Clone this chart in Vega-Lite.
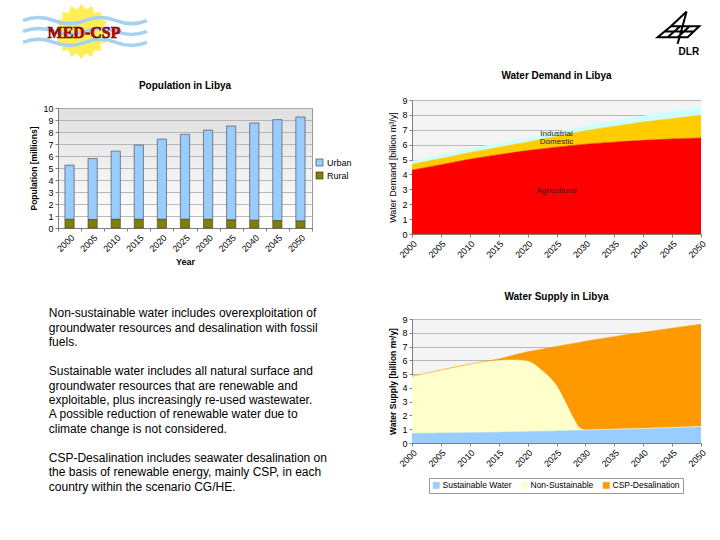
{
  "$schema": "https://vega.github.io/schema/vega-lite/v6.json",
  "background": "white",
  "padding": {"left": 16, "top": 3, "right": 10, "bottom": 10},
  "spacing": 30,
  "resolve": {"scale": {"color": "independent"}, "legend": {"color": "independent"}},
  "config": {
    "font": "Liberation Sans",
    "view": {"stroke": null},
    "axis": {"labelFontSize": 9, "labelColor": "#000", "titleColor": "#000", "domainColor": "#7f7f7f", "tickColor": "#7f7f7f", "gridColor": "#a9a9a9", "gridWidth": 0.8, "tickSize": 3, "titleFontSize": 9, "labelPadding": 2},
    "title": {"fontSize": 10, "fontWeight": "bold", "color": "#000", "font": "Liberation Sans"},
    "legend": {"labelColor": "#000"}
  },
  "hconcat": [
    {
      "bounds": "flush",
      "spacing": 45,
      "resolve": {"scale": {"color": "independent"}, "legend": {"color": "independent"}},
      "vconcat": [
        {
          "width": 300,
          "height": 58.5,
          "data": {"values": [{"logo": "MED-CSP"}]},
          "layer": [
            {
              "mark": {"type": "point", "shape": "M1,0L0.804,0.160L0.924,0.383L0.682,0.456L0.707,0.707L0.456,0.682L0.383,0.924L0.160,0.804L0,1L-0.160,0.804L-0.383,0.924L-0.456,0.682L-0.707,0.707L-0.682,0.456L-0.924,0.383L-0.804,0.160L-1,0L-0.804,-0.160L-0.924,-0.383L-0.682,-0.456L-0.707,-0.707L-0.456,-0.682L-0.383,-0.924L-0.160,-0.804L0,-1L0.160,-0.804L0.383,-0.924L0.456,-0.682L0.707,-0.707L0.682,-0.456L0.924,-0.383L0.804,-0.160Z", "size": 3025, "filled": true, "color": "#ffee55", "opacity": 1, "strokeWidth": 0},
              "encoding": {
                "x": {"datum": 0.0783, "type": "quantitative", "scale": {"domain": [0, 1]}, "axis": null},
                "y": {"datum": 0.53, "type": "quantitative", "scale": {"domain": [0, 1]}, "axis": null}
              }
            },
            {
              "mark": {"type": "point", "shape": "M-1,-0.177Q-0.75,-0.277,-0.5,-0.177T0,-0.177T0.5,-0.177T1,-0.177M-1,0Q-0.75,-0.1,-0.5,0T0,0T0.5,0T1,0M-1,0.177Q-0.75,0.077,-0.5,0.177T0,0.177T0.5,0.177T1,0.177", "size": 15376, "filled": false, "stroke": "#a6d2f2", "strokeWidth": 3.5, "opacity": 1},
              "encoding": {
                "x": {"datum": 0.09, "type": "quantitative"},
                "y": {"datum": 0.53, "type": "quantitative"}
              }
            },
            {
              "mark": {"type": "text", "font": "Liberation Serif", "fontWeight": "bold", "fontSize": 16, "fill": "#e00000", "stroke": "#600000", "strokeWidth": 0.6, "align": "center", "baseline": "middle"},
              "encoding": {
                "x": {"datum": 0.0867, "type": "quantitative"},
                "y": {"datum": 0.504, "type": "quantitative"},
                "text": {"field": "logo"}
              }
            }
          ]
        },
        {
          "width": 254,
          "height": 120,
          "title": {"text": "Population in Libya", "offset": 13},
          "view": {"fill": {"gradient": "linear", "x1": 0, "y1": 0, "x2": 0, "y2": 1, "stops": [{"offset": 0, "color": "#e0e0e0"}, {"offset": 1, "color": "#ffffff"}]}, "stroke": "#999999"},
          "data": {"values": [
            {"year": "2000", "type": "Urban", "value": 4.52}, {"year": "2000", "type": "Rural", "value": 0.72},
            {"year": "2005", "type": "Urban", "value": 5.09}, {"year": "2005", "type": "Rural", "value": 0.70},
            {"year": "2010", "type": "Urban", "value": 5.69}, {"year": "2010", "type": "Rural", "value": 0.72},
            {"year": "2015", "type": "Urban", "value": 6.19}, {"year": "2015", "type": "Rural", "value": 0.72},
            {"year": "2020", "type": "Urban", "value": 6.69}, {"year": "2020", "type": "Rural", "value": 0.72},
            {"year": "2025", "type": "Urban", "value": 7.08}, {"year": "2025", "type": "Rural", "value": 0.72},
            {"year": "2030", "type": "Urban", "value": 7.44}, {"year": "2030", "type": "Rural", "value": 0.72},
            {"year": "2035", "type": "Urban", "value": 7.83}, {"year": "2035", "type": "Rural", "value": 0.67},
            {"year": "2040", "type": "Urban", "value": 8.11}, {"year": "2040", "type": "Rural", "value": 0.64},
            {"year": "2045", "type": "Urban", "value": 8.42}, {"year": "2045", "type": "Rural", "value": 0.61},
            {"year": "2050", "type": "Urban", "value": 8.67}, {"year": "2050", "type": "Rural", "value": 0.58}
          ]},
          "mark": {"type": "bar", "width": {"band": 0.4}, "stroke": "#404040", "strokeWidth": 0.6, "opacity": 1},
          "encoding": {
            "x": {"field": "year", "type": "ordinal", "scale": {"paddingInner": 0, "paddingOuter": 0}, "axis": {"labelAngle": -45, "title": "Year", "titleFontWeight": "bold", "tickBand": "extent", "grid": false, "titlePadding": 4}},
            "y": {"field": "value", "type": "quantitative", "stack": "zero", "scale": {"domain": [0, 10]}, "axis": {"values": [0, 1, 2, 3, 4, 5, 6, 7, 8, 9, 10], "title": "Population [millions]", "titleFontWeight": "bold", "grid": true, "titleFontSize": 8.5}},
            "color": {"field": "type", "type": "nominal", "scale": {"domain": ["Urban", "Rural"], "range": ["#99ccff", "#808000"]}, "legend": {"title": null, "orient": "none", "legendX": 257, "legendY": 50, "symbolType": "square", "symbolStrokeColor": "#333", "symbolStrokeWidth": 0.6, "symbolSize": 50, "labelFontSize": 9, "labelOffset": 3}},
            "order": {"field": "type", "sort": "ascending"}
          }
        },
        {
          "width": 254,
          "height": 254,
          "data": {"values": [
            {"line": 1, "text": "Non-sustainable water includes overexploitation of"},
            {"line": 2, "text": "groundwater resources and desalination with fossil"},
            {"line": 3, "text": "fuels."},
            {"line": 5, "text": "Sustainable water includes all natural surface and"},
            {"line": 6, "text": "groundwater resources that are renewable and"},
            {"line": 7, "text": "exploitable, plus increasingly re-used wastewater."},
            {"line": 8, "text": "A possible reduction of renewable water due to"},
            {"line": 9, "text": "climate change is not considered."},
            {"line": 11, "text": "CSP-Desalination includes seawater desalination on"},
            {"line": 12, "text": "the basis of renewable energy, mainly CSP, in each"},
            {"line": 13, "text": "country within the scenario CG/HE."}
          ]},
          "mark": {"type": "text", "align": "left", "baseline": "middle", "fontSize": 12, "color": "#000"},
          "encoding": {
            "x": {"datum": 0, "type": "quantitative", "scale": {"domain": [0.035, 1]}, "axis": null},
            "y": {"field": "line", "type": "quantitative", "scale": {"domain": [-1.759, 15.759], "reverse": true, "nice": false, "zero": false}, "axis": null},
            "text": {"field": "text"}
          }
        }
      ]
    },
    {
      "bounds": "flush",
      "spacing": 85,
      "resolve": {"scale": {"color": "independent"}, "legend": {"color": "independent"}},
      "vconcat": [
        {
          "width": 289,
          "height": 10.5,
          "data": {"values": [{"logo": "DLR"}]},
          "layer": [
            {
              "mark": {"type": "point", "shape": "M-0.357,-0.071L0.992,-0.071L0.437,0.452L-0.992,0.452ZM-0.675,0.183L0.706,0.183M0.087,-0.071L-0.516,0.452M0.532,-0.071L-0.04,0.452M0.389,-0.77L-0.04,0.77M0.389,-0.77L-0.357,-0.071", "size": 1764, "filled": false, "stroke": "#000", "strokeWidth": 2, "opacity": 1},
              "encoding": {
                "x": {"datum": 0.922, "type": "quantitative", "scale": {"domain": [0, 1]}, "axis": null},
                "y": {"datum": -1.257, "type": "quantitative", "scale": {"domain": [0, 1]}, "axis": null}
              }
            },
            {
              "mark": {"type": "text", "fontWeight": "bold", "fontSize": 10, "color": "#000", "align": "center", "baseline": "middle"},
              "encoding": {
                "x": {"datum": 0.958, "type": "quantitative"},
                "y": {"datum": -3.53, "type": "quantitative"},
                "text": {"field": "logo"}
              }
            }
          ]
        },
        {
          "width": 289,
          "height": 134,
          "title": {"text": "Water Demand in Libya", "offset": 15},
          "view": {"fill": "#f4f4f4", "stroke": null},
          "data": {"values": [
            {"year": 2000, "sector": "Agricultural", "value": 4.29}, {"year": 2000, "sector": "Domestic", "value": 0.40}, {"year": 2000, "sector": "Industrial", "value": 0.20},
            {"year": 2005, "sector": "Agricultural", "value": 4.65}, {"year": 2005, "sector": "Domestic", "value": 0.42}, {"year": 2005, "sector": "Industrial", "value": 0.22},
            {"year": 2010, "sector": "Agricultural", "value": 5.02}, {"year": 2010, "sector": "Domestic", "value": 0.45}, {"year": 2010, "sector": "Industrial", "value": 0.25},
            {"year": 2015, "sector": "Agricultural", "value": 5.33}, {"year": 2015, "sector": "Domestic", "value": 0.50}, {"year": 2015, "sector": "Industrial", "value": 0.25},
            {"year": 2020, "sector": "Agricultural", "value": 5.60}, {"year": 2020, "sector": "Domestic", "value": 0.58}, {"year": 2020, "sector": "Industrial", "value": 0.25},
            {"year": 2025, "sector": "Agricultural", "value": 5.83}, {"year": 2025, "sector": "Domestic", "value": 0.73}, {"year": 2025, "sector": "Industrial", "value": 0.27},
            {"year": 2030, "sector": "Agricultural", "value": 6.03}, {"year": 2030, "sector": "Domestic", "value": 0.91}, {"year": 2030, "sector": "Industrial", "value": 0.31},
            {"year": 2035, "sector": "Agricultural", "value": 6.17}, {"year": 2035, "sector": "Domestic", "value": 1.07}, {"year": 2035, "sector": "Industrial", "value": 0.35},
            {"year": 2040, "sector": "Agricultural", "value": 6.29}, {"year": 2040, "sector": "Domestic", "value": 1.23}, {"year": 2040, "sector": "Industrial", "value": 0.40},
            {"year": 2045, "sector": "Agricultural", "value": 6.38}, {"year": 2045, "sector": "Domestic", "value": 1.38}, {"year": 2045, "sector": "Industrial", "value": 0.47},
            {"year": 2050, "sector": "Agricultural", "value": 6.45}, {"year": 2050, "sector": "Domestic", "value": 1.52}, {"year": 2050, "sector": "Industrial", "value": 0.56}
          ]},
          "encoding": {
            "x": {"field": "year", "type": "quantitative", "scale": {"domain": [2000, 2050], "nice": false, "zero": false}, "axis": {"values": [2000, 2005, 2010, 2015, 2020, 2025, 2030, 2035, 2040, 2045, 2050], "format": "d", "labelAngle": -45, "title": null, "grid": false}}
          },
          "layer": [
            {
              "mark": {"type": "area", "interpolate": "monotone", "opacity": 1, "line": {"color": "#333", "strokeWidth": 0.6}},
              "encoding": {
                "y": {"field": "value", "type": "quantitative", "stack": "zero", "scale": {"domain": [0, 9]}, "axis": {"values": [0, 1, 2, 3, 4, 5, 6, 7, 8, 9], "title": "Water Demand [billion m³/y]", "titleFontWeight": "normal", "grid": true}},
                "color": {"field": "sector", "type": "nominal", "scale": {"domain": ["Agricultural", "Domestic", "Industrial"], "range": ["#ff0000", "#ffcc00", "#ccffff"]}, "legend": null},
                "order": {"field": "sector", "sort": "ascending"}
              }
            },
            {
              "transform": [
                {"filter": "datum.year === 2025"},
                {"stack": "value", "groupby": ["year"], "sort": [{"field": "sector", "order": "ascending"}], "as": ["v0", "v1"]},
                {"calculate": "(datum.v0 + datum.v1) / 2", "as": "mid"}
              ],
              "mark": {"type": "text", "fontSize": 8, "color": "#222", "baseline": "middle"},
              "encoding": {
                "y": {"field": "mid", "type": "quantitative", "axis": {"values": [0, 1, 2, 3, 4, 5, 6, 7, 8, 9], "title": "Water Demand [billion m³/y]", "titleFontWeight": "normal", "grid": true}},
                "text": {"field": "sector"}
              }
            }
          ]
        },
        {
          "width": 289,
          "height": 124,
          "title": {"text": "Water Supply in Libya", "offset": 13},
          "view": {"fill": "#f4f4f4", "stroke": null},
          "data": {"values": [
            {"year": 2000, "source": "Sustainable Water", "value": 0.70}, {"year": 2000, "source": "Non-Sustainable", "value": 4.14}, {"year": 2000, "source": "CSP-Desalination", "value": 0.00},
            {"year": 2005, "source": "Sustainable Water", "value": 0.72}, {"year": 2005, "source": "Non-Sustainable", "value": 4.58}, {"year": 2005, "source": "CSP-Desalination", "value": 0.00},
            {"year": 2010, "source": "Sustainable Water", "value": 0.75}, {"year": 2010, "source": "Non-Sustainable", "value": 4.98}, {"year": 2010, "source": "CSP-Desalination", "value": 0.00},
            {"year": 2015, "source": "Sustainable Water", "value": 0.78}, {"year": 2015, "source": "Non-Sustainable", "value": 5.20}, {"year": 2015, "source": "CSP-Desalination", "value": 0.12},
            {"year": 2017.5, "source": "Sustainable Water", "value": 0.80}, {"year": 2017.5, "source": "Non-Sustainable", "value": 5.22}, {"year": 2017.5, "source": "CSP-Desalination", "value": 0.34},
            {"year": 2020, "source": "Sustainable Water", "value": 0.82}, {"year": 2020, "source": "Non-Sustainable", "value": 5.11}, {"year": 2020, "source": "CSP-Desalination", "value": 0.69},
            {"year": 2022.5, "source": "Sustainable Water", "value": 0.85}, {"year": 2022.5, "source": "Non-Sustainable", "value": 4.40}, {"year": 2022.5, "source": "CSP-Desalination", "value": 1.56},
            {"year": 2025, "source": "Sustainable Water", "value": 0.87}, {"year": 2025, "source": "Non-Sustainable", "value": 3.28}, {"year": 2025, "source": "CSP-Desalination", "value": 2.85},
            {"year": 2026.5, "source": "Sustainable Water", "value": 0.89}, {"year": 2026.5, "source": "Non-Sustainable", "value": 2.11}, {"year": 2026.5, "source": "CSP-Desalination", "value": 4.12},
            {"year": 2028, "source": "Sustainable Water", "value": 0.91}, {"year": 2028, "source": "Non-Sustainable", "value": 0.84}, {"year": 2028, "source": "CSP-Desalination", "value": 5.48},
            {"year": 2029, "source": "Sustainable Water", "value": 0.93}, {"year": 2029, "source": "Non-Sustainable", "value": 0.17}, {"year": 2029, "source": "CSP-Desalination", "value": 6.20},
            {"year": 2030, "source": "Sustainable Water", "value": 0.95}, {"year": 2030, "source": "Non-Sustainable", "value": 0.00}, {"year": 2030, "source": "CSP-Desalination", "value": 6.43},
            {"year": 2035, "source": "Sustainable Water", "value": 1.00}, {"year": 2035, "source": "Non-Sustainable", "value": 0.00}, {"year": 2035, "source": "CSP-Desalination", "value": 6.72},
            {"year": 2040, "source": "Sustainable Water", "value": 1.05}, {"year": 2040, "source": "Non-Sustainable", "value": 0.00}, {"year": 2040, "source": "CSP-Desalination", "value": 6.98},
            {"year": 2045, "source": "Sustainable Water", "value": 1.12}, {"year": 2045, "source": "Non-Sustainable", "value": 0.00}, {"year": 2045, "source": "CSP-Desalination", "value": 7.21},
            {"year": 2050, "source": "Sustainable Water", "value": 1.20}, {"year": 2050, "source": "Non-Sustainable", "value": 0.00}, {"year": 2050, "source": "CSP-Desalination", "value": 7.42}
          ]},
          "mark": {"type": "area", "interpolate": "monotone", "opacity": 1, "line": {"color": "#333", "strokeWidth": 0.6}},
          "encoding": {
            "x": {"field": "year", "type": "quantitative", "scale": {"domain": [2000, 2050], "nice": false, "zero": false}, "axis": {"values": [2000, 2005, 2010, 2015, 2020, 2025, 2030, 2035, 2040, 2045, 2050], "format": "d", "labelAngle": -45, "title": null, "grid": false}},
            "y": {"field": "value", "type": "quantitative", "stack": "zero", "scale": {"domain": [0, 9]}, "axis": {"values": [0, 1, 2, 3, 4, 5, 6, 7, 8, 9], "title": "Water Supply [billion m³/y]", "titleFontWeight": "bold", "titleFontSize": 8.5, "grid": true}},
            "color": {"field": "source", "type": "nominal", "scale": {"domain": ["Sustainable Water", "Non-Sustainable", "CSP-Desalination"], "range": ["#99ccff", "#ffffcc", "#ff9900"]}, "legend": {"title": null, "orient": "none", "direction": "horizontal", "legendX": 17, "legendY": 159, "strokeColor": "#999", "padding": 3, "symbolType": "square", "symbolSize": 40, "symbolStrokeColor": "#666", "symbolStrokeWidth": 0.5, "symbolOpacity": 1, "labelFontSize": 8.5, "columnPadding": 8, "labelOffset": 2}},
            "order": {"field": "source", "sort": "descending"}
          }
        }
      ]
    }
  ]
}
